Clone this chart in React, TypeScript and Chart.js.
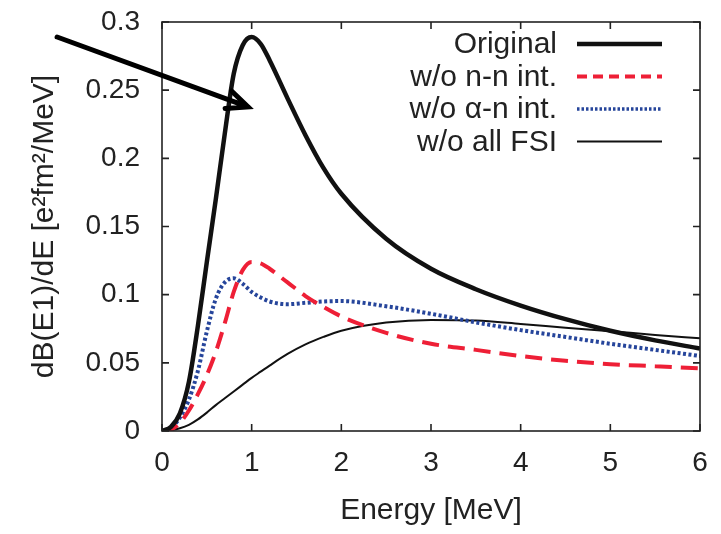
import React, { useEffect, useRef } from "react";
import { Chart, registerables } from "chart.js";

Chart.register(...registerables);

const energies = [0, 0.1, 0.2, 0.3, 0.4, 0.5, 0.6, 0.7, 0.8, 0.9, 1.0, 1.1, 1.2, 1.4, 1.6, 1.8, 2.0, 2.5, 3.0, 3.5, 4.0, 4.5, 5.0, 5.5, 6.0];
const original = [0, 0.003, 0.013, 0.036, 0.077, 0.124, 0.17, 0.218, 0.262, 0.283, 0.289, 0.284, 0.272, 0.244, 0.217, 0.193, 0.174, 0.141, 0.119, 0.104, 0.092, 0.082, 0.0735, 0.0665, 0.0605];
const withoutNN = [0, 0.001, 0.006, 0.015, 0.027, 0.041, 0.058, 0.079, 0.102, 0.118, 0.124, 0.123, 0.119, 0.109, 0.099, 0.091, 0.084, 0.072, 0.064, 0.0595, 0.055, 0.0515, 0.049, 0.0475, 0.046];
const withoutAlphaN = [0, 0.002, 0.01, 0.023, 0.044, 0.073, 0.097, 0.109, 0.112, 0.108, 0.102, 0.098, 0.095, 0.093, 0.094, 0.095, 0.0953, 0.0915, 0.086, 0.0797, 0.074, 0.069, 0.064, 0.0595, 0.055];
const withoutAllFSI = [0, 0.0006, 0.002, 0.0045, 0.0085, 0.0135, 0.019, 0.024, 0.029, 0.034, 0.039, 0.0435, 0.048, 0.0565, 0.0635, 0.069, 0.0735, 0.0795, 0.0815, 0.081, 0.0785, 0.0758, 0.0732, 0.0705, 0.068];

const seriesLabels = ["Original", "w/o n-n int.", "w/o \u03b1-n int.", "w/o all FSI"];
const xTickValues = [0, 1, 2, 3, 4, 5, 6];
const yTickValues = [0, 0.05, 0.1, 0.15, 0.2, 0.25, 0.3];
const xTitle = "Energy [MeV]";
const yTitle = "dB(E1)/dE [e\u00b2fm\u00b2/MeV]";
// arrow annotation (data coordinates): tail and tip
const arrowTail = [-1.17, 0.289];
const arrowTip = [0.96, 0.2377];

const FONT = "'Liberation Sans', Arial, Helvetica, sans-serif";
const TEXT = "#222222";

const styles = [
  { color: "#111111", width: 4.5, dash: [] as number[], legendDash: [] as number[], legendWidth: 4.5 },
  { color: "#ee1f36", width: 4, dash: [17, 9], legendDash: [10, 6], legendWidth: 4 },
  { color: "#26459b", width: 4, dash: [3, 2.5], legendDash: [2.5, 2], legendWidth: 3.5 },
  { color: "#111111", width: 2, dash: [] as number[], legendDash: [] as number[], legendWidth: 2 },
];

const framePlugin = {
  id: "frameTicks",
  afterDatasetsDraw(chart: any) {
    const { ctx, chartArea } = chart;
    const xs = chart.scales.x;
    const ys = chart.scales.y;
    const { left, right, top, bottom } = chartArea;
    ctx.save();
    ctx.strokeStyle = "#222";
    ctx.lineWidth = 1.6;
    ctx.strokeRect(left, top, right - left, bottom - top);
    const tl = 7;
    ctx.beginPath();
    xTickValues.forEach((v) => {
      const px = xs.getPixelForValue(v);
      ctx.moveTo(px, bottom);
      ctx.lineTo(px, bottom - tl);
      ctx.moveTo(px, top);
      ctx.lineTo(px, top + tl);
    });
    yTickValues.forEach((v) => {
      const py = ys.getPixelForValue(v);
      ctx.moveTo(left, py);
      ctx.lineTo(left + tl, py);
      ctx.moveTo(right, py);
      ctx.lineTo(right - tl, py);
    });
    ctx.stroke();
    ctx.restore();
  },
  afterDraw(chart: any) {
    const { ctx, chartArea } = chart;
    const xs = chart.scales.x;
    const ys = chart.scales.y;
    ctx.save();
    // legend
    ctx.font = `30px ${FONT}`;
    ctx.fillStyle = TEXT;
    ctx.textAlign = "right";
    ctx.textBaseline = "middle";
    const sampleEnd = chartArea.right - 38;
    const sampleStart = sampleEnd - 85;
    const textRight = sampleStart - 20;
    chart.data.datasets.forEach((ds: any, i: number) => {
      const y = chartArea.top + 22 + i * 32.5;
      ctx.fillStyle = TEXT;
      ctx.fillText(ds.label, textRight, y + 1);
      const st = styles[i];
      ctx.beginPath();
      ctx.setLineDash(st.legendDash);
      ctx.strokeStyle = st.color;
      ctx.lineWidth = st.legendWidth;
      ctx.lineCap = "butt";
      ctx.moveTo(sampleStart, y);
      ctx.lineTo(sampleEnd, y);
      ctx.stroke();
    });
    ctx.setLineDash([]);
    // arrow
    const x0 = xs.getPixelForValue(arrowTail[0]);
    const y0 = ys.getPixelForValue(arrowTail[1]);
    const x1 = xs.getPixelForValue(arrowTip[0]);
    const y1 = ys.getPixelForValue(arrowTip[1]);
    const ang = Math.atan2(y1 - y0, x1 - x0);
    const hl = 23;
    const ha = (24 * Math.PI) / 180;
    ctx.strokeStyle = "#000";
    ctx.lineWidth = 5;
    ctx.lineCap = "round";
    ctx.lineJoin = "miter";
    ctx.beginPath();
    ctx.moveTo(x0, y0);
    ctx.lineTo(x1, y1);
    ctx.moveTo(x1 - hl * Math.cos(ang - ha), y1 - hl * Math.sin(ang - ha));
    ctx.lineTo(x1, y1);
    ctx.lineTo(x1 - hl * Math.cos(ang + ha), y1 - hl * Math.sin(ang + ha));
    ctx.stroke();
    ctx.restore();
  },
};

export default function App() {
  const canvasRef = useRef<HTMLCanvasElement | null>(null);

  useEffect(() => {
    if (!canvasRef.current) return;
    const series = [original, withoutNN, withoutAlphaN, withoutAllFSI];
    const chart = new Chart(canvasRef.current, {
      type: "line",
      data: {
        datasets: series.map((vals, i) => ({
          label: seriesLabels[i],
          data: energies.map((e, j) => ({ x: e, y: vals[j] })),
          borderColor: styles[i].color,
          borderWidth: styles[i].width,
          borderDash: styles[i].dash,
          borderCapStyle: "butt",
          pointRadius: 0,
          fill: false,
          cubicInterpolationMode: "monotone",
        })),
      },
      options: {
        animation: false,
        responsive: true,
        maintainAspectRatio: false,
        layout: { padding: { left: 0, right: 21, top: 22, bottom: 0 } },
        plugins: { legend: { display: false }, tooltip: { enabled: false } },
        scales: {
          x: {
            type: "linear",
            min: 0,
            max: 6,
            afterFit: (s: any) => {
              s.height = 103;
              s.paddingLeft = 0;
              s.paddingRight = 0;
            },
            afterBuildTicks: (s: any) => { s.ticks = xTickValues.map((v) => ({ value: v })); },
            grid: { display: false, drawTicks: false },
            border: { display: false },
            ticks: {
              padding: 15,
              color: TEXT,
              font: { family: FONT, size: 28 },
              callback: (v: any) => String(v),
            },
            title: {
              display: true,
              text: xTitle,
              color: TEXT,
              font: { family: FONT, size: 30 },
              padding: { top: 0, bottom: 5 },
            },
          },
          y: {
            type: "linear",
            min: 0,
            max: 0.3,
            afterFit: (s: any) => {
              s.width = 162;
              s.paddingTop = 0;
              s.paddingBottom = 0;
            },
            afterBuildTicks: (s: any) => { s.ticks = yTickValues.map((v) => ({ value: v })); },
            grid: { display: false, drawTicks: false },
            border: { display: false },
            ticks: {
              padding: 22,
              color: TEXT,
              font: { family: FONT, size: 28 },
              callback: (v: any) => String(Number(Number(v).toFixed(2))),
            },
            title: {
              display: true,
              text: yTitle,
              color: TEXT,
              font: { family: FONT, size: 30 },
              padding: { top: 27, bottom: 0 },
            },
          },
        },
      },
      plugins: [framePlugin],
    } as any);
    return () => chart.destroy();
  }, []);

  return (
    <div style={{ position: "fixed", left: 0, top: 0, width: 721, height: 534, background: "#fff" }}>
      <canvas ref={canvasRef} />
    </div>
  );
}
